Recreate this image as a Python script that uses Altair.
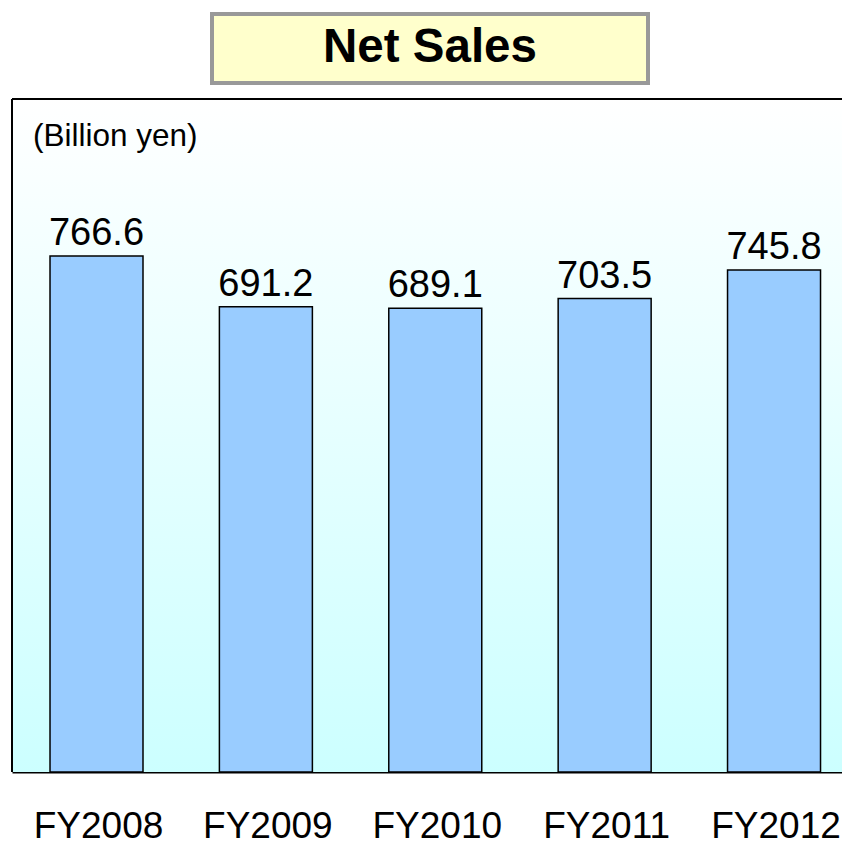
import altair as alt
import pandas as pd

years = ["FY2008", "FY2009", "FY2010", "FY2011", "FY2012"]
sales = [766.6, 691.2, 689.1, 703.5, 745.8]
labels = ["766.6", "691.2", "689.1", "703.5", "745.8"]

df = pd.DataFrame({"year": years, "sales": sales, "label": labels})

W, H = 830, 673
FONT = "Liberation Sans"

x = alt.X("year:N", sort=years,
          scale=alt.Scale(paddingInner=0.451, paddingOuter=0.1756, align=0.639),
          axis=alt.Axis(title=None, labelAngle=0, labelFontSize=37, labelFont=FONT,
                        labelColor="black", ticks=False, labelPadding=36, labelOffset=2,
                        domainColor="black", domainWidth=2, grid=False))
y = alt.Y("sales:Q", scale=alt.Scale(domain=[0, 1000], nice=False), axis=None)

bg = alt.Chart(df).mark_rect(
    color=alt.Gradient(gradient="linear",
                       stops=[alt.GradientStop(color="#FFFFFF", offset=0),
                              alt.GradientStop(color="#CCFFFF", offset=1)],
                       x1=0, x2=0, y1=0, y2=1)
).encode(x=alt.value(0), x2=alt.value(W), y=alt.value(0), y2=alt.value(H))

left_rule = alt.Chart(df).mark_rule(color="black", strokeWidth=2).encode(
    x=alt.value(0), y=alt.value(0), y2=alt.value(H))
top_rule = alt.Chart(df).mark_rule(color="black", strokeWidth=2).encode(
    x=alt.value(0), x2=alt.value(W + 20), y=alt.value(0))

bars = alt.Chart(df).mark_bar(color="#99CCFF", stroke="black", strokeWidth=1.5).encode(x=x, y=y)

vals = alt.Chart(df).mark_text(fontSize=38, font=FONT, color="black", baseline="alphabetic", dy=-11).encode(
    x=x, y=y, text="label:N")

unit = alt.Chart(pd.DataFrame({"t": ["(Billion yen)"]})).mark_text(
    fontSize=31.5, font=FONT, color="black", align="left", baseline="alphabetic").encode(
    x=alt.value(21), y=alt.value(47), text="t:N")

tbox = alt.Chart(pd.DataFrame({"t": ["Net Sales"]})).mark_rect(
    fill="#FFFFCC", stroke="#999999", strokeWidth=4).encode(
    x=alt.value(200), x2=alt.value(636), y=alt.value(-85), y2=alt.value(-16))
ttext = alt.Chart(pd.DataFrame({"t": ["Net Sales"]})).mark_text(
    fontSize=47.5, font=FONT, fontWeight="bold", color="black", baseline="middle").encode(
    x=alt.value(418), y=alt.value(-51), text="t:N")

chart = alt.layer(bg, bars, vals, unit, left_rule, top_rule, tbox, ttext).properties(
    width=W, height=H,
    autosize=alt.AutoSizeParams(type="none"),
    padding={"left": 4, "top": 91, "right": 0, "bottom": 80},
).configure_view(stroke=None)

chart.save("out.html", embed_options={"renderer": "svg", "actions": False})
